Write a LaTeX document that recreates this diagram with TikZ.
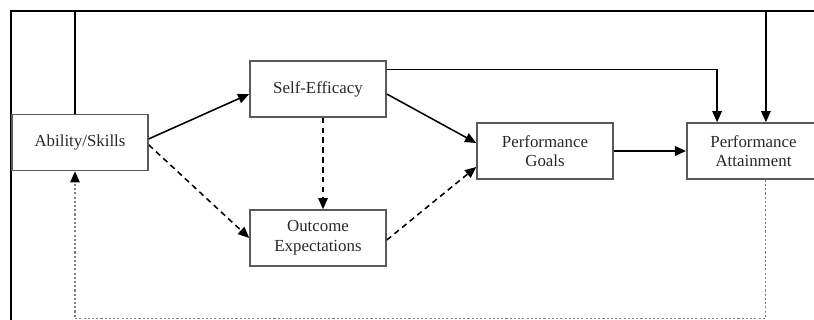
\documentclass[tikz,border=0pt]{standalone}
\usepackage{fontspec}
\setmainfont{Liberation Serif}
\usepackage{tikz}
\usetikzlibrary{arrows.meta, positioning, calc}
\usepackage{xcolor}
\definecolor{boxgray}{RGB}{90,90,90}
\definecolor{txtgray}{RGB}{40,40,40}

\begin{document}
\begin{tikzpicture}[x=0.025cm, y=-0.025cm,
        box/.style={draw=boxgray, line width=1.1pt, align=center, text=txtgray,
            minimum width=3.4cm, minimum height=1.4cm, inner sep=2pt,
            font=\fontsize{12}{14}\selectfont},
        arr/.style={line width=1.1pt, -{Triangle[length=2.8mm, width=2.4mm]}},
        darr/.style={arr, dash pattern=on 4pt off 3pt},
        fb/.style={line width=0.8pt, draw=gray, dash pattern=on 1.5pt off 1.5pt,
            -{Triangle[length=2.8mm, width=2.4mm, color=black]}}]
        \useasboundingbox (0,0) rectangle (814,320);

        % outer frame
        \draw[line width=1.3pt] (11,320) -- (11,11) -- (814,11);
        \coordinate (ftop) at (0,11);

        % Main boxes
        \node[box] (abil) at (80,142.5) {Ability/Skills};
        \node[box] (self) at (318,89) {Self-Efficacy};
        \node[box] (outc) at (318,238) {Outcome\\Expectations};
        \node[box] (goal) at (545,151) {Performance\\Goals};
        \node[box, minimum width=3.33cm] (attn) at (753.5,151) {Performance\\Attainment};

        % entry points on top of Attainment
        \coordinate (inself) at ([xshift=-0.91cm]attn.north);
        \coordinate (inabil) at ([xshift=0.31cm]attn.north);

        % Solid paths
        \draw[arr] ([yshift=0.09cm]abil.east) -- ([yshift=-0.125cm]self.west);
        \draw[arr] ([yshift=-0.125cm]self.east) -- ([yshift=0.2cm]goal.west);
        \draw[arr] (goal.east) -- (attn.west);
        \draw[arr] ([yshift=0.49cm]self.east) -| (inself);
        \draw[arr] ([xshift=-0.125cm]abil.north) |- (inabil |- ftop) -- (inabil);

        % Dashed paths
        \draw[darr] ([xshift=0.125cm]self.south) -- ([xshift=0.125cm]outc.north);
        \draw[darr] ([yshift=-0.06cm]abil.east) -- (outc.west);
        \draw[darr] ([yshift=-0.05cm]outc.east) -- ([yshift=-0.4cm]goal.west);

        % Feedback loop
        \draw[fb] ([xshift=0.29cm]attn.south) -- ++(0,139) -| ([xshift=-0.125cm]abil.south);

    \end{tikzpicture}
\end{document}
